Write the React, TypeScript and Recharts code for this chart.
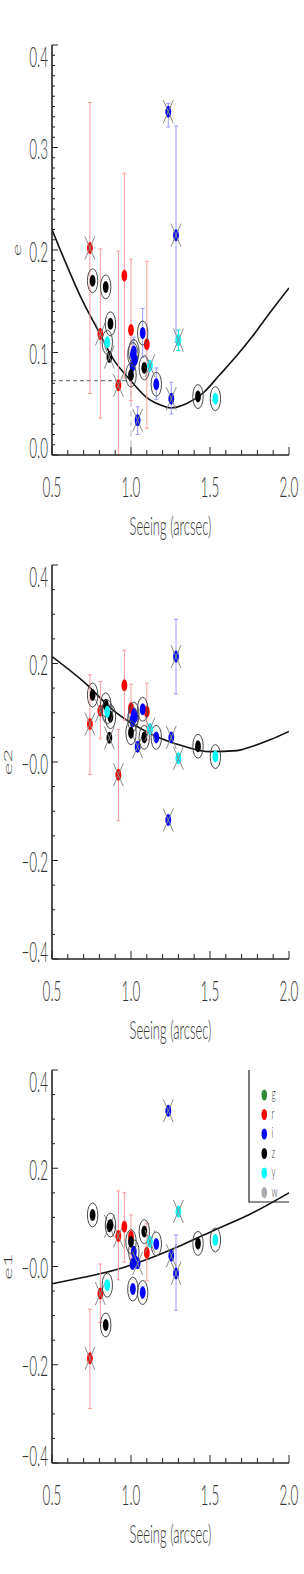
import React from 'react';
import { ComposedChart, Scatter, Line, XAxis, YAxis, ErrorBar, ReferenceLine } from 'recharts';

// ---- axes -------------------------------------------------------------
const seeingTicks = [0.5, 0.6, 0.7, 0.8, 0.9, 1.0, 1.1, 1.2, 1.3, 1.4, 1.5, 1.6, 1.7, 1.8, 1.9, 2.0];
const seeingMajor = [0.5, 1.0, 1.5, 2.0];
const seeingLabels = ['0.5', '1.0', '1.5', '2.0'];

const eTicks = [
  0, 0.01, 0.02, 0.03, 0.04, 0.05, 0.06, 0.07, 0.08, 0.09, 0.1, 0.11, 0.12, 0.13, 0.14, 0.15, 0.16, 0.17, 0.18, 0.19, 0.2,
  0.21, 0.22, 0.23, 0.24, 0.25, 0.26, 0.27, 0.28, 0.29, 0.3, 0.31, 0.32, 0.33, 0.34, 0.35, 0.36, 0.37, 0.38, 0.39, 0.4,
];
const eMajor = [0.0, 0.1, 0.2, 0.3, 0.4];
const eLabels = ['0.0', '0.1', '0.2', '0.3', '0.4'];

const e12Ticks = [-0.4, -0.35, -0.3, -0.25, -0.2, -0.15, -0.1, -0.05, 0, 0.05, 0.1, 0.15, 0.2, 0.25, 0.3, 0.35, 0.4];
const e12Major = [-0.4, -0.2, 0, 0.2, 0.4];
const e12Labels = ['\u22120.4', '\u22120.2', '\u22120.0', '0.2', '0.4'];

const BANDS = ['g', 'r', 'i', 'z', 'y', 'w'];

// ---- r band -----------------------------------------------------------
const rSeeing = [0.74, 0.806, 0.92, 0.958, 1.0, 1.1];
const rFlag = ['x', 'x', 'x', '', '', ''];
const rE = [0.202, 0.118, 0.068, 0.175, 0.122, 0.108];
const rE2 = [0.077, 0.104, -0.026, 0.156, 0.109, 0.102];
const rE1 = [-0.187, -0.055, 0.062, 0.081, 0.061, 0.028];
// error bar ends [low, high]
const rErrE = [[0.06, 0.344], [0.036, 0.201], [0.0, 0.199], [0.075, 0.275], [0.053, 0.191], [0.026, 0.189]];
const rErrE2 = [[-0.025, 0.177], [0.047, 0.163], [-0.119, 0.066], [0.085, 0.227], [0.06, 0.158], [0.045, 0.16]];
const rErrE1 = [[-0.289, -0.087], [-0.114, 0.005], [-0.027, 0.154], [0.009, 0.15], [0.017, 0.105], [-0.029, 0.088]];

// ---- i band -----------------------------------------------------------
const iSeeing = [1.01, 1.012, 1.018, 1.025, 1.042, 1.074, 1.16, 1.236, 1.255, 1.285];
const iFlag = ['', 'o', 'o', '', 'x', 'o', 'o', 'x', 'x', 'x'];
const iE = [0.087, 0.098, 0.101, 0.093, 0.034, 0.119, 0.069, 0.335, 0.055, 0.2145];
const iE2 = [0.082, 0.087, 0.097, 0.092, 0.031, 0.107, 0.05, -0.118, 0.05, 0.214];
const iE1 = [0.005, -0.046, 0.03, 0.012, 0.0065, -0.053, 0.046, 0.317, 0.022, -0.014];
const iErrE = [null, [0.085, 0.112], [0.088, 0.115], null, [0.02, 0.047], [0.095, 0.143], [0.054, 0.085], [0.32, 0.343], [0.04, 0.071], [0.11, 0.321]];
const iErrE2 = [null, null, null, null, null, null, null, null, null, [0.138, 0.29]];
const iErrE1 = [null, null, null, null, null, [-0.065, -0.041], null, null, null, [-0.089, 0.064]];

// ---- z band -----------------------------------------------------------
const zSeeing = [0.757, 0.84, 0.863, 0.87, 1.0, 1.084, 1.424];
const zFlag = ['o', 'o', 'x', 'o', 'o', 'o', 'o'];
const zE = [0.17, 0.164, 0.0955, 0.128, 0.078, 0.085, 0.057];
const zE2 = [0.136, 0.116, 0.049, 0.092, 0.0595, 0.05, 0.032];
const zE1 = [0.105, -0.119, 0.082, 0.0845, 0.0505, 0.071, 0.047];

// ---- y band -----------------------------------------------------------
const ySeeing = [0.85, 1.12, 1.3, 1.534];
const yFlag = ['o', 'x', 'x', 'o'];
const yE = [0.11, 0.087, 0.112, 0.055];
const yE2 = [0.102, 0.067, 0.0075, 0.011];
const yE1 = [-0.038, 0.0505, 0.112, 0.054];
const yErrE = [null, null, [0.102, 0.122], null];

// ---- fitted curves ----------------------------------------------------
const fitSeeingE = [0.5, 0.58, 0.685, 0.79, 0.89, 0.99, 1.1, 1.2, 1.25, 1.35, 1.46, 1.56, 1.67, 1.77, 1.88, 2.0];
const fitE = [0.22, 0.19, 0.153, 0.122, 0.093, 0.074, 0.056, 0.048, 0.046, 0.05, 0.061, 0.078, 0.097, 0.116, 0.139, 0.163];
const fitSeeingE2 = [0.5, 0.7, 0.91, 1.12, 1.33, 1.5, 1.67, 1.75, 1.88, 2.0];
const fitE2 = [0.214, 0.163, 0.099, 0.058, 0.0325, 0.021, 0.023, 0.03, 0.045, 0.062];
const fitSeeingE1 = [0.5, 0.7, 0.91, 1.12, 1.33, 1.54, 1.75, 2.0];
const fitE1 = [-0.035, -0.022, -0.006, 0.017, 0.045, 0.076, 0.106, 0.15];

// best seeing marker on the e panel
const bestSeeing = 1.0;
const eAtBest = 0.0725;

// ---- styles -----------------------------------------------------------
const COLORS: Record<string, string> = {
  g: '#2e8b3a', r: '#ff0000', i: '#0000ff', z: '#000000', y: '#00ffff', w: '#aaaaaa',
};
const ERR_COLORS: Record<string, string> = { r: '#ff9a9a', i: '#9a9aff', y: '#00d8d8', z: '#666666' };
const FONT = 'Lato, "Liberation Sans", sans-serif';
const FW = 300;
const INK = '#333';
const AXIS = '#222';
const SQ = 0.5; // the whole figure is squashed horizontally

const pts = (seeing: number[], vals: number[], flags: string[], errs?: any[]) =>
  seeing.map((s, i) => {
    const e = errs ? errs[i] : null;
    return { x: s, y: vals[i], flag: flags[i], err: e ? [vals[i] - e[0], e[1] - vals[i]] : undefined };
  });

const curve = (xs: number[], ys: number[]) => xs.map((x, i) => ({ x, y: ys[i] }));

const findIdx = (arr: number[], v: number) => arr.findIndex((m) => Math.abs(m - v) < 1e-6);

const xTick = (labels: string[] | null, inward: number) => (p: any) => {
  const v = p.payload.value;
  const k = findIdx(seeingMajor, v);
  const len = k >= 0 ? 8 : 5;
  return (
    <g>
      <line x1={p.x} x2={p.x} y1={p.y} y2={p.y + inward * len} stroke={AXIS} strokeWidth={1} />
      {labels && k >= 0 && (
        <text transform={`translate(${p.x},${p.y + 42}) scale(${SQ},1)`} textAnchor="middle" fontSize={27} fontFamily={FONT} fontWeight={FW} fill={INK}>
          {labels[k]}
        </text>
      )}
    </g>
  );
};

const yTick = (major: number[], labels: string[] | null, inward: number, lo: number, hi: number) => (p: any) => {
  const v = p.payload.value;
  const k = findIdx(major, v);
  const len = k >= 0 ? 6 : 3;
  let off = 2;
  if (Math.abs(v - hi) < 1e-6) off = 12;
  if (Math.abs(v - lo) < 1e-6) off = -7;
  return (
    <g>
      <line x1={p.x} x2={p.x + inward * len} y1={p.y} y2={p.y} stroke={AXIS} strokeWidth={1} />
      {labels && k >= 0 && (
        <text transform={`translate(${p.x - 4},${p.y + off + 9.7}) scale(${SQ},1)`} textAnchor="end" fontSize={27} fontFamily={FONT} fontWeight={FW} fill={INK}>
          {labels[k]}
        </text>
      )}
    </g>
  );
};

const xTitle = (p: any) => {
  const vb = p.viewBox || { x: 52, y: 0, width: 237 };
  return (
    <text transform={`translate(${vb.x + vb.width / 2},${vb.y + 80}) scale(${SQ},1)`} textAnchor="middle" fontSize={26} fontFamily={FONT} fontWeight={FW} fill={INK}>
      Seeing (arcsec)
    </text>
  );
};

const yTitle = (text: string, bx: number) => (p: any) => {
  const vb = p.viewBox || { y: 0, height: 0 };
  const cy = vb.y + vb.height / 2;
  return (
    <text transform={`translate(${bx},${cy}) scale(${SQ},1) rotate(-90)`} textAnchor="middle" fontSize={24} fontFamily={FONT} fontWeight={FW} fill={INK}>
      {text}
    </text>
  );
};

const marker = (color: string) => (p: any) => {
  const { cx, cy, payload } = p;
  if (cx == null || cy == null) return <g />;
  return (
    <g>
      {payload.flag === 'o' && <ellipse cx={cx} cy={cy} rx={5.2} ry={12} fill="none" stroke="#4a4a4a" strokeWidth={1} />}
      <ellipse cx={cx} cy={cy} rx={2.9} ry={6} fill={color} />
      {payload.flag === 'x' && (
        <path
          d={`M${cx - 5},${cy - 11.5}L${cx + 5},${cy + 11.5}M${cx + 5},${cy - 11.5}L${cx - 5},${cy + 11.5}`}
          stroke="#8a8a8a"
          strokeWidth={1}
        />
      )}
    </g>
  );
};

type Series = { band: string; data: any[] };

interface PanelProps {
  top: number;
  height: number;
  marginTop: number;
  xAxisHeight: number;
  yDomain: [number, number];
  yTicks: number[];
  yMajor: number[];
  yLabels: string[];
  title: string;
  titleX: number;
  fit: { x: number; y: number }[];
  series: Series[];
  best?: boolean;
}

const Panel = ({ top, height, marginTop, xAxisHeight, yDomain, yTicks, yMajor, yLabels, title, titleX, fit, series, best }: PanelProps) => (
  <div style={{ position: 'absolute', left: 0, top, width: 304, height }}>
    <ComposedChart width={304} height={height} margin={{ top: marginTop, right: 15, bottom: 0, left: 0 }}>
      <XAxis
        dataKey="x"
        type="number"
        domain={[0.5, 2.0]}
        ticks={seeingTicks}
        interval={0}
        allowDataOverflow
        tickSize={0}
        tickMargin={0}
        tickLine={false}
        axisLine={{ stroke: AXIS, strokeWidth: 1.6 }}
        tick={xTick(seeingLabels, -1)}
        height={xAxisHeight}
        label={{ content: xTitle }}
      />
      <XAxis
        xAxisId="top"
        orientation="top"
        type="number"
        domain={[0.5, 2.0]}
        ticks={seeingTicks}
        interval={0}
        allowDataOverflow
        tickSize={0}
        tickMargin={0}
        tickLine={false}
        axisLine={{ stroke: AXIS, strokeWidth: 1.6 }}
        tick={xTick(null, 1)}
        height={0}
      />
      <YAxis
        type="number"
        domain={yDomain}
        ticks={yTicks}
        interval={0}
        allowDataOverflow
        tickSize={0}
        tickMargin={0}
        tickLine={false}
        axisLine={{ stroke: AXIS, strokeWidth: 1.6 }}
        tick={yTick(yMajor, yLabels, 1, yDomain[0], yDomain[1])}
        width={52}
        label={{ content: yTitle(title, titleX) }}
      />
      <YAxis
        yAxisId="right"
        orientation="right"
        type="number"
        domain={yDomain}
        ticks={yTicks}
        interval={0}
        allowDataOverflow
        tickSize={0}
        tickMargin={0}
        tickLine={false}
        axisLine={{ stroke: AXIS, strokeWidth: 1.6 }}
        tick={yTick(yMajor, null, -1, yDomain[0], yDomain[1])}
        width={0}
      />
      {best && (
        <ReferenceLine
          segment={[{ x: 0.5, y: eAtBest }, { x: bestSeeing, y: eAtBest }]}
          stroke="#4f5f70"
          strokeDasharray="4 3"
        />
      )}
      {best && (
        <ReferenceLine
          segment={[{ x: bestSeeing, y: eAtBest }, { x: bestSeeing, y: 0 }]}
          stroke="#aab0bb"
          strokeDasharray="6 4"
        />
      )}
      <Line data={fit} dataKey="y" type="monotone" dot={false} stroke="#111" strokeWidth={1.6} isAnimationActive={false} />
      {series.map((s) => (
        <Scatter key={s.band} data={s.data} dataKey="y" shape={marker(COLORS[s.band])} isAnimationActive={false}>
          <ErrorBar dataKey="err" direction="y" width={2} stroke={ERR_COLORS[s.band]} strokeWidth={1} />
        </Scatter>
      ))}
    </ComposedChart>
  </div>
);

const LegendBox = () => (
  <svg width={304} height={1574} style={{ position: 'absolute', left: 0, top: 0, pointerEvents: 'none' }}>
    <polyline points="249,1070 249,1202 289,1202" fill="none" stroke={AXIS} strokeWidth={1.2} />
    {BANDS.map((b, i) => {
      const cy = 1095 + i * 19.5;
      return (
        <g key={b}>
          <ellipse cx={264.3} cy={cy} rx={2.8} ry={5.5} fill={COLORS[b]} />
          <text transform={`translate(271.5,${cy + 4}) scale(${SQ},1)`} fontSize={16} fontFamily={FONT} fontWeight={FW} fill={INK}>
            {b}
          </text>
        </g>
      );
    })}
  </svg>
);

export default function App() {
  const seriesE: Series[] = [
    { band: 'r', data: pts(rSeeing, rE, rFlag, rErrE) },
    { band: 'i', data: pts(iSeeing, iE, iFlag, iErrE) },
    { band: 'z', data: pts(zSeeing, zE, zFlag) },
    { band: 'y', data: pts(ySeeing, yE, yFlag, yErrE) },
  ];
  const seriesE2: Series[] = [
    { band: 'r', data: pts(rSeeing, rE2, rFlag, rErrE2) },
    { band: 'i', data: pts(iSeeing, iE2, iFlag, iErrE2) },
    { band: 'z', data: pts(zSeeing, zE2, zFlag) },
    { band: 'y', data: pts(ySeeing, yE2, yFlag) },
  ];
  const seriesE1: Series[] = [
    { band: 'r', data: pts(rSeeing, rE1, rFlag, rErrE1) },
    { band: 'i', data: pts(iSeeing, iE1, iFlag, iErrE1) },
    { band: 'z', data: pts(zSeeing, zE1, zFlag) },
    { band: 'y', data: pts(ySeeing, yE1, yFlag) },
  ];

  return (
    <div style={{ position: 'absolute', left: 0, top: 0, width: 304, height: 1574, background: '#fff' }}>
      <Panel
        top={0}
        height={545}
        marginTop={45}
        xAxisHeight={90}
        yDomain={[0, 0.4]}
        yTicks={eTicks}
        yMajor={eMajor}
        yLabels={eLabels}
        title="e"
        titleX={20.5}
        fit={curve(fitSeeingE, fitE)}
        series={seriesE}
        best
      />
      <Panel
        top={545}
        height={505}
        marginTop={20}
        xAxisHeight={91}
        yDomain={[-0.4, 0.4]}
        yTicks={e12Ticks}
        yMajor={e12Major}
        yLabels={e12Labels}
        title="e2"
        titleX={11.7}
        fit={curve(fitSeeingE2, fitE2)}
        series={seriesE2}
      />
      <Panel
        top={1050}
        height={524}
        marginTop={20}
        xAxisHeight={111}
        yDomain={[-0.4, 0.4]}
        yTicks={e12Ticks}
        yMajor={e12Major}
        yLabels={e12Labels}
        title="e1"
        titleX={11.7}
        fit={curve(fitSeeingE1, fitE1)}
        series={seriesE1}
      />
      <LegendBox />
    </div>
  );
}
